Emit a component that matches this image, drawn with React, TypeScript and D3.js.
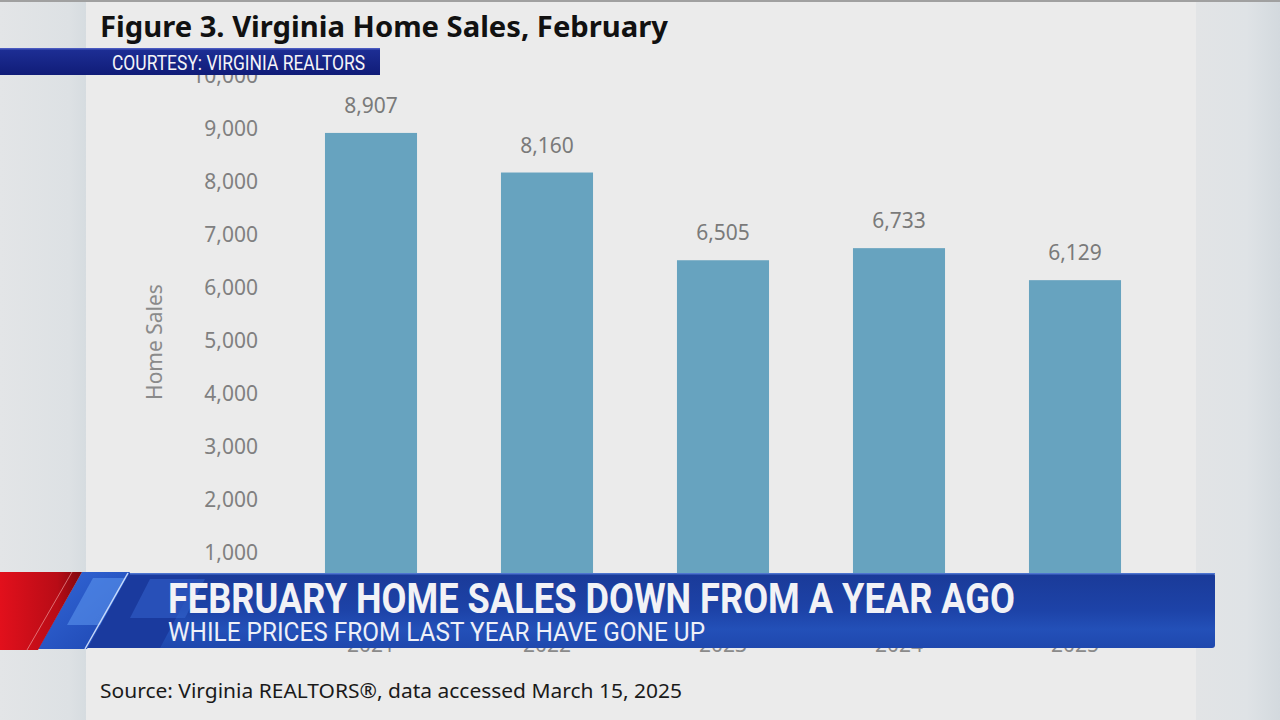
import React from "react";
import * as d3 from "d3";

const years = ["2021", "2022", "2023", "2024", "2025"];
const homeSales = [8907, 8160, 6505, 6733, 6129];
const yTicks = [1000, 2000, 3000, 4000, 5000, 6000, 7000, 8000, 9000, 10000];

const title = "Figure 3. Virginia Home Sales, February";
const courtesy = "COURTESY: VIRGINIA REALTORS";
const headline = "FEBRUARY HOME SALES DOWN FROM A YEAR AGO";
const subline = "WHILE PRICES FROM LAST YEAR HAVE GONE UP";
const source = "Source: Virginia REALTORS®, data accessed March 15, 2025";
const yTitle = "Home Sales";

export default function App() {
  const W = 1280;
  const H = 720;
  const x = d3.scaleBand<string>().domain(years).range([283, 1163]).paddingInner(0.477).paddingOuter(0.2385);
  const y = d3.scaleLinear().domain([0, 10000]).range([605, 75]);
  const fmt = d3.format(",");
  const font = "'Noto Sans', 'Open Sans', sans-serif";
  const cond = "'Roboto', 'Liberation Sans', sans-serif";

  return (
    <div style={{ position: "fixed", left: 0, top: 0, width: W, height: H }}>
      <svg width={W} height={H} style={{ display: "block" }}>
        <defs>
          <linearGradient id="leftStrip" x1="0" x2="1" y1="0" y2="0">
            <stop offset="0" stopColor="#e3e5e7" />
            <stop offset="0.8" stopColor="#dde1e4" />
            <stop offset="1" stopColor="#d6dce0" />
          </linearGradient>
          <linearGradient id="rightStrip" x1="0" x2="1" y1="0" y2="0">
            <stop offset="0" stopColor="#e2e4e6" />
            <stop offset="0.6" stopColor="#dfe3e6" />
            <stop offset="1" stopColor="#d3d9de" />
          </linearGradient>
          <linearGradient id="courtesyGrad" x1="0" x2="0" y1="0" y2="1">
            <stop offset="0" stopColor="#1e2f96" />
            <stop offset="1" stopColor="#101c78" />
          </linearGradient>
          <linearGradient id="bannerGrad" x1="0" x2="0" y1="0" y2="1">
            <stop offset="0" stopColor="#1a3a98" />
            <stop offset="0.5" stopColor="#1d43a8" />
            <stop offset="0.75" stopColor="#2350b8" />
            <stop offset="1" stopColor="#1f48ae" />
          </linearGradient>
          <linearGradient id="redGrad" x1="0" x2="1" y1="0" y2="0">
            <stop offset="0" stopColor="#e2101c" />
            <stop offset="0.7" stopColor="#b80c16" />
            <stop offset="1" stopColor="#7e0810" />
          </linearGradient>
          <linearGradient id="blueSlant" x1="0" x2="1" y1="0" y2="1">
            <stop offset="0" stopColor="#3368d8" />
            <stop offset="1" stopColor="#1d45b0" />
          </linearGradient>
        </defs>

        {/* background */}
        <rect x={0} y={0} width={W} height={H} fill="#ebebeb" />
        <rect x={0} y={0} width={86} height={H} fill="url(#leftStrip)" />
        <rect x={1196} y={0} width={84} height={H} fill="url(#rightStrip)" />
        <rect x={0} y={0} width={W} height={2} fill="#a0a0a0" />

        {/* title */}
        <text x={100} y={37} fontFamily={font} fontWeight={700} fontSize={29} fill="#111" textLength={568} lengthAdjust="spacingAndGlyphs">
          {title}
        </text>

        {/* y axis tick labels */}
        {yTicks.map((t) => (
          <text key={t} x={258} y={y(t) + 7.5} textAnchor="end" fontFamily={font} fontSize={21} fill="#808080">
            {fmt(t)}
          </text>
        ))}

        {/* y axis title */}
        <text
          transform={`translate(162,342) rotate(-90)`}
          textAnchor="middle"
          fontFamily={font}
          fontSize={21}
          fill="#8a8a8a"
        >
          {yTitle}
        </text>

        {/* bars */}
        {years.map((yr, i) => (
          <rect
            key={yr}
            x={x(yr)}
            y={y(homeSales[i])}
            width={x.bandwidth()}
            height={y(0) - y(homeSales[i])}
            fill="#67a3bf"
          />
        ))}

        {/* value labels */}
        {years.map((yr, i) => (
          <text
            key={yr}
            x={(x(yr) as number) + x.bandwidth() / 2}
            y={y(homeSales[i]) - 20}
            textAnchor="middle"
            fontFamily={font}
            fontSize={21}
            fill="#7a7a7a"
          >
            {fmt(homeSales[i])}
          </text>
        ))}

        {/* x labels (mostly hidden behind banner) */}
        {years.map((yr) => (
          <text
            key={yr}
            x={(x(yr) as number) + x.bandwidth() / 2}
            y={652}
            textAnchor="middle"
            fontFamily={font}
            fontSize={21}
            fill="#8a8a8a"
          >
            {yr}
          </text>
        ))}

        {/* courtesy tag */}
        <rect x={0} y={48} width={380} height={27} fill="url(#courtesyGrad)" />
        <rect x={0} y={48} width={380} height={1.5} fill="#4a5ac0" />
        <text x={112} y={70} fontFamily={cond} fontSize={20} fill="#f4f4f8" textLength={253} lengthAdjust="spacingAndGlyphs">
          {courtesy}
        </text>

        {/* lower-third banner */}
        <rect x={100} y={573} width={1115} height={75} rx={3} fill="url(#bannerGrad)" />
        <polygon points="128,573 200,573 160,648 86,648" fill="#1a3a9e" />
        <polygon points="150,579 205,579 185,618 130,618" fill="#3a6cd8" opacity={0.45} />
        <polygon points="82,572 130,572 87,649 38,649" fill="url(#blueSlant)" />
        <polygon points="93,578 126,578 100,625 67,625" fill="#5a92ec" opacity={0.6} />
        <polygon points="0,572 82,572 38,650 0,650" fill="url(#redGrad)" />
        <line x1={72} y1={572} x2={27} y2={650} stroke="#f4b0b0" strokeWidth={1} opacity={0.6} />
        <line x1={128} y1={573} x2={85} y2={649} stroke="#d8e6ff" strokeWidth={1.5} opacity={0.9} />
        <rect x={130} y={573} width={1085} height={1.5} fill="#4d74d0" />

        <text x={168} y={613} fontFamily={cond} fontWeight={700} fontSize={42} fill="#f2f2f6" textLength={847} lengthAdjust="spacingAndGlyphs">
          {headline}
        </text>
        <text x={168} y={641} fontFamily={cond} fontSize={25} fill="#eef0f8" textLength={537} lengthAdjust="spacingAndGlyphs">
          {subline}
        </text>

        {/* source */}
        <text x={100} y={698} fontFamily={font} fontSize={20} fill="#1a1a1a" textLength={582} lengthAdjust="spacingAndGlyphs">
          {source}
        </text>
      </svg>
    </div>
  );
}
